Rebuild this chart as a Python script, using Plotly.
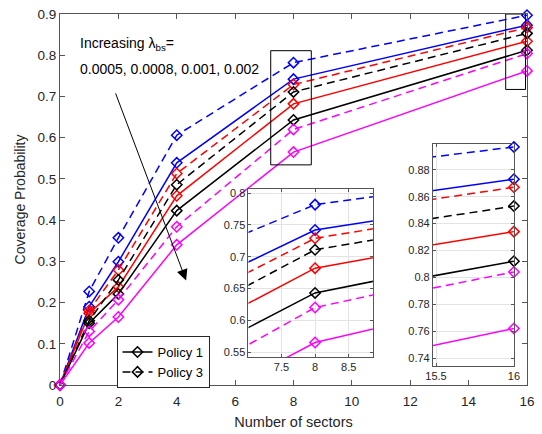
import plotly.graph_objects as go

# ---- data ----
x_sectors = [0, 1, 2, 4, 8, 16]

blue_policy1 = [0, 0.190, 0.299, 0.539, 0.742, 0.873]
blue_policy3 = [0, 0.227, 0.357, 0.606, 0.782, 0.897]
red_policy1 = [0, 0.174, 0.238, 0.459, 0.682, 0.834]
red_policy3 = [0, 0.181, 0.279, 0.513, 0.729, 0.867]
black_policy1 = [0, 0.150, 0.221, 0.423, 0.643, 0.812]
black_policy3 = [0, 0.156, 0.255, 0.486, 0.711, 0.853]
magenta_policy1 = [0, 0.102, 0.165, 0.340, 0.565, 0.762]
magenta_policy3 = [0, 0.130, 0.207, 0.384, 0.620, 0.804]

legend_names = ["Policy 1", "Policy 3"]
main_xticks = [0, 2, 4, 6, 8, 10, 12, 14, 16]
main_yticks = [0, 0.1, 0.2, 0.3, 0.4, 0.5, 0.6, 0.7, 0.8, 0.9]
inset1_xticks = [7.5, 8, 8.5]
inset1_yticks = [0.55, 0.6, 0.65, 0.7, 0.75, 0.8]
inset2_xticks = [15.5, 16]
inset2_yticks = [0.74, 0.76, 0.78, 0.8, 0.82, 0.84, 0.86, 0.88]

BLUE, RED, BLACK, MAGENTA = "#0000ff", "#ff0000", "#000000", "#ff00ff"
DASH = "8px,5px"
FONT = "Liberation Sans, Arial, Helvetica, sans-serif"
AX = "#555555"
TXT = "#262626"

series = [
    (blue_policy1, BLUE, "solid"), (blue_policy3, BLUE, DASH),
    (red_policy1, RED, "solid"), (red_policy3, RED, DASH),
    (black_policy1, BLACK, "solid"), (black_policy3, BLACK, DASH),
    (magenta_policy1, MAGENTA, "solid"), (magenta_policy3, MAGENTA, DASH),
]

fig = go.Figure()

for xa, ya, clip in [("x", "y", False), ("x2", "y2", True), ("x3", "y3", False)]:
    for vals, col, dash in series:
        fig.add_trace(go.Scatter(
            x=x_sectors, y=vals, xaxis=xa, yaxis=ya, mode="lines+markers",
            line=dict(color=col, width=1.5, dash=dash),
            marker=dict(symbol="diamond-open", size=8, color=col, line=dict(width=1.5, color=col)),
            cliponaxis=clip, showlegend=False, hoverinfo="skip"))

# legend entries
for name, dash in zip(legend_names, ["solid", DASH]):
    fig.add_trace(go.Scatter(
        x=[None], y=[None], mode="lines+markers", name=name,
        line=dict(color=BLACK, width=1.5, dash=dash),
        marker=dict(symbol="diamond-open", size=8, color=BLACK, line=dict(width=1.5, color=BLACK))))

main_ax = dict(showline=True, linecolor=AX, linewidth=1, mirror="ticks", ticks="inside",
               ticklen=5, tickcolor=AX, showgrid=False, zeroline=False,
               tickfont=dict(size=13.5, color=TXT, family=FONT))
inset_ax = dict(showline=True, linecolor=AX, linewidth=1, mirror="ticks", ticks="inside",
                ticklen=3, tickcolor=AX, showgrid=True, gridcolor="#e3e3e3", gridwidth=1,
                zeroline=False, tickfont=dict(size=11, color=TXT, family=FONT))

fig.update_layout(
    width=542, height=434,
    margin=dict(l=60, r=7, t=13, b=49),
    paper_bgcolor="white", plot_bgcolor="white",
    font=dict(family=FONT, color=TXT),
    xaxis=dict(main_ax, range=[0, 16], tickvals=main_xticks, ticklabelstandoff=4,
               title=dict(text="Number of sectors", font=dict(size=14.5, color=TXT), standoff=8)),
    yaxis=dict(main_ax, range=[0, 0.9], tickvals=main_yticks,
               title=dict(text="Coverage Probability", font=dict(size=14, color=TXT), standoff=8)),
    xaxis2=dict(inset_ax, domain=[0.4036, 0.670], anchor="y2", range=[7.01, 8.86],
                tickvals=inset1_xticks),
    yaxis2=dict(inset_ax, domain=[0.0752, 0.529], anchor="x2", range=[0.542, 0.807],
                tickvals=inset1_yticks),
    xaxis3=dict(inset_ax, domain=[0.7985, 0.972], anchor="y3", range=[15.48, 16],
                tickvals=inset2_xticks),
    yaxis3=dict(inset_ax, domain=[0.051, 0.649], anchor="x3", range=[0.734, 0.899],
                tickvals=inset2_yticks),
    legend=dict(x=0.121, y=0.132, xanchor="left", yanchor="top", bgcolor="white",
                bordercolor=TXT, borderwidth=1, font=dict(size=13, color=BLACK, family=FONT),
                tracegroupgap=0),
)

# zoom rectangles on the main axes
fig.add_shape(type="rect", xref="x", yref="y", x0=7.22, x1=8.61, y0=0.534, y1=0.811,
              line=dict(color=BLACK, width=1), layer="above")
fig.add_shape(type="rect", xref="x", yref="y", x0=15.27, x1=15.95, y0=0.717, y1=0.9,
              line=dict(color=BLACK, width=1), layer="above")

# text annotation
fig.add_annotation(xref="paper", yref="paper", x=0.038, y=0.9186, xanchor="left", yanchor="middle",
                   text="Increasing λ<sub>bs</sub>=", showarrow=False,
                   font=dict(size=14, color=BLACK, family=FONT))
fig.add_annotation(xref="paper", yref="paper", x=0.038, y=0.852, xanchor="left", yanchor="middle",
                   text="0.0005, 0.0008, 0.001, 0.002", showarrow=False,
                   font=dict(size=14, color=BLACK, family=FONT))
# arrow
fig.add_annotation(xref="x", yref="y", axref="x", ayref="y", x=4.32, y=0.2536, ax=1.886, ay=0.711,
                   text="", showarrow=True, arrowhead=2, arrowsize=2.2, arrowwidth=1,
                   arrowcolor=BLACK)

fig.write_html("out.html")
